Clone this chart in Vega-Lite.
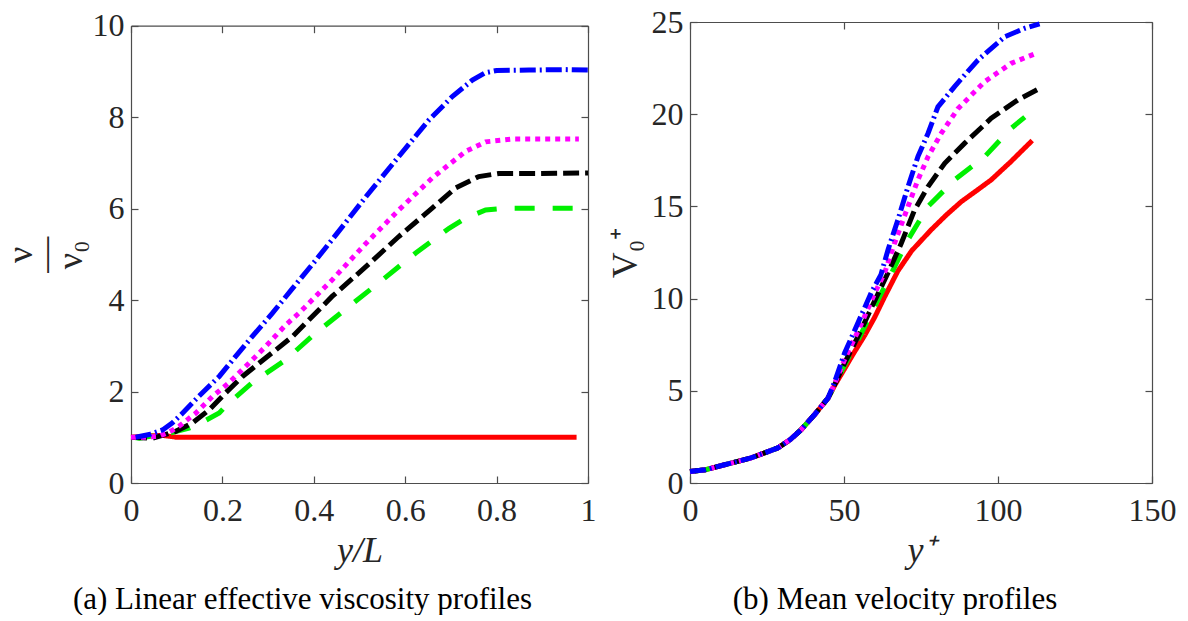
{
  "$schema": "https://vega.github.io/schema/vega-lite/v6.json",
  "background": "white",
  "padding": {"left": 2, "top": 6, "right": 0, "bottom": 0},
  "config": {
    "font": "Liberation Serif",
    "view": {"stroke": null},
    "axis": {
      "grid": false, "domain": true, "domainColor": "#4d4d4d", "domainWidth": 1.2, "labelFlush": false,
      "tickSize": -7, "tickColor": "#4d4d4d", "tickWidth": 1.2,
      "labelFont": "Liberation Serif", "labelFontSize": 32, "labelColor": "#262626",
      "titleFont": "Liberation Serif", "titleFontSize": 36, "titleColor": "#262626", "titleFontWeight": "normal"
    },
    "axisX": {"labelPadding": 19},
    "axisY": {"labelPadding": 14},
    "title": {"font": "Liberation Serif", "fontSize": 31, "fontWeight": "normal", "color": "#000000"}
  },
  "datasets": {
    "visc": [
      {"x": 0.0, "v": 1.0, "s": "s1"}, {"x": 0.04, "v": 1.03, "s": "s1"}, {"x": 0.07, "v": 1.04, "s": "s1"}, {"x": 0.1, "v": 1.0, "s": "s1"}, {"x": 0.975, "v": 1.0, "s": "s1"},
      {"x": 0.005, "v": 1.0, "s": "s2"}, {"x": 0.018, "v": 0.98, "s": "s2"}, {"x": 0.083, "v": 1.09, "s": "s2"}, {"x": 0.127, "v": 1.2, "s": "s2"}, {"x": 0.16, "v": 1.35, "s": "s2"}, {"x": 0.193, "v": 1.53, "s": "s2"}, {"x": 0.214, "v": 1.75, "s": "s2"}, {"x": 0.265, "v": 2.19, "s": "s2"}, {"x": 0.338, "v": 2.69, "s": "s2"}, {"x": 0.404, "v": 3.28, "s": "s2"}, {"x": 0.477, "v": 3.86, "s": "s2"}, {"x": 0.55, "v": 4.44, "s": "s2"}, {"x": 0.623, "v": 5.03, "s": "s2"}, {"x": 0.696, "v": 5.57, "s": "s2"}, {"x": 0.732, "v": 5.79, "s": "s2"}, {"x": 0.776, "v": 5.97, "s": "s2"}, {"x": 0.82, "v": 6.01, "s": "s2"}, {"x": 0.975, "v": 6.01, "s": "s2"},
      {"x": 0.0, "v": 1.0, "s": "s3"}, {"x": 0.047, "v": 0.98, "s": "s3"}, {"x": 0.098, "v": 1.13, "s": "s3"}, {"x": 0.134, "v": 1.31, "s": "s3"}, {"x": 0.171, "v": 1.6, "s": "s3"}, {"x": 0.207, "v": 1.97, "s": "s3"}, {"x": 0.244, "v": 2.33, "s": "s3"}, {"x": 0.28, "v": 2.62, "s": "s3"}, {"x": 0.317, "v": 2.91, "s": "s3"}, {"x": 0.353, "v": 3.2, "s": "s3"}, {"x": 0.375, "v": 3.42, "s": "s3"}, {"x": 0.44, "v": 4.08, "s": "s3"}, {"x": 0.514, "v": 4.73, "s": "s3"}, {"x": 0.586, "v": 5.39, "s": "s3"}, {"x": 0.659, "v": 6.01, "s": "s3"}, {"x": 0.71, "v": 6.45, "s": "s3"}, {"x": 0.761, "v": 6.7, "s": "s3"}, {"x": 0.805, "v": 6.77, "s": "s3"}, {"x": 0.893, "v": 6.77, "s": "s3"}, {"x": 1.0, "v": 6.78, "s": "s3"},
      {"x": 0.0, "v": 1.0, "s": "s4"}, {"x": 0.03, "v": 1.0, "s": "s4"}, {"x": 0.061, "v": 1.02, "s": "s4"}, {"x": 0.085, "v": 1.12, "s": "s4"}, {"x": 0.105, "v": 1.24, "s": "s4"}, {"x": 0.142, "v": 1.53, "s": "s4"}, {"x": 0.178, "v": 1.89, "s": "s4"}, {"x": 0.214, "v": 2.19, "s": "s4"}, {"x": 0.258, "v": 2.62, "s": "s4"}, {"x": 0.295, "v": 2.99, "s": "s4"}, {"x": 0.338, "v": 3.45, "s": "s4"}, {"x": 0.368, "v": 3.72, "s": "s4"}, {"x": 0.44, "v": 4.44, "s": "s4"}, {"x": 0.514, "v": 5.24, "s": "s4"}, {"x": 0.586, "v": 5.97, "s": "s4"}, {"x": 0.659, "v": 6.67, "s": "s4"}, {"x": 0.732, "v": 7.25, "s": "s4"}, {"x": 0.776, "v": 7.46, "s": "s4"}, {"x": 0.834, "v": 7.52, "s": "s4"}, {"x": 0.98, "v": 7.52, "s": "s4"},
      {"x": 0.01, "v": 1.0, "s": "s5"}, {"x": 0.04, "v": 1.06, "s": "s5"}, {"x": 0.069, "v": 1.16, "s": "s5"}, {"x": 0.09, "v": 1.31, "s": "s5"}, {"x": 0.11, "v": 1.5, "s": "s5"}, {"x": 0.134, "v": 1.75, "s": "s5"}, {"x": 0.163, "v": 2.04, "s": "s5"}, {"x": 0.193, "v": 2.33, "s": "s5"}, {"x": 0.229, "v": 2.77, "s": "s5"}, {"x": 0.265, "v": 3.2, "s": "s5"}, {"x": 0.309, "v": 3.71, "s": "s5"}, {"x": 0.353, "v": 4.25, "s": "s5"}, {"x": 0.4, "v": 4.82, "s": "s5"}, {"x": 0.44, "v": 5.32, "s": "s5"}, {"x": 0.514, "v": 6.26, "s": "s5"}, {"x": 0.586, "v": 7.14, "s": "s5"}, {"x": 0.652, "v": 7.94, "s": "s5"}, {"x": 0.703, "v": 8.45, "s": "s5"}, {"x": 0.747, "v": 8.81, "s": "s5"}, {"x": 0.775, "v": 8.97, "s": "s5"}, {"x": 0.8, "v": 9.02, "s": "s5"}, {"x": 0.871, "v": 9.03, "s": "s5"}, {"x": 0.95, "v": 9.04, "s": "s5"}, {"x": 1.0, "v": 9.03, "s": "s5"}
    ],
    "vel": [
      {"y": 0, "u": 0.62, "s": "s1"}, {"y": 5, "u": 0.72, "s": "s1"}, {"y": 11.2, "u": 0.99, "s": "s1"}, {"y": 19.8, "u": 1.36, "s": "s1"}, {"y": 28.5, "u": 1.9, "s": "s1"}, {"y": 32.5, "u": 2.35, "s": "s1"}, {"y": 36.1, "u": 2.89, "s": "s1"}, {"y": 40.4, "u": 3.7, "s": "s1"}, {"y": 44.8, "u": 4.6, "s": "s1"}, {"y": 47, "u": 5.3, "s": "s1"}, {"y": 50.2, "u": 6.2, "s": "s1"}, {"y": 53, "u": 7.0, "s": "s1"}, {"y": 56.7, "u": 8.0, "s": "s1"}, {"y": 60, "u": 9.0, "s": "s1"}, {"y": 63.2, "u": 10.1, "s": "s1"}, {"y": 67.5, "u": 11.5, "s": "s1"}, {"y": 72, "u": 12.6, "s": "s1"}, {"y": 78.3, "u": 13.73, "s": "s1"}, {"y": 83, "u": 14.5, "s": "s1"}, {"y": 88.1, "u": 15.26, "s": "s1"}, {"y": 93, "u": 15.85, "s": "s1"}, {"y": 97.8, "u": 16.44, "s": "s1"}, {"y": 104, "u": 17.4, "s": "s1"}, {"y": 111.1, "u": 18.57, "s": "s1"},
      {"y": 0, "u": 0.62, "s": "s2"}, {"y": 5, "u": 0.72, "s": "s2"}, {"y": 11.2, "u": 0.99, "s": "s2"}, {"y": 19.8, "u": 1.36, "s": "s2"}, {"y": 28.5, "u": 1.9, "s": "s2"}, {"y": 32.5, "u": 2.35, "s": "s2"}, {"y": 36.1, "u": 2.89, "s": "s2"}, {"y": 40.4, "u": 3.7, "s": "s2"}, {"y": 44.8, "u": 4.6, "s": "s2"}, {"y": 47, "u": 5.3, "s": "s2"}, {"y": 50.2, "u": 6.4, "s": "s2"}, {"y": 55, "u": 7.9, "s": "s2"}, {"y": 60, "u": 9.6, "s": "s2"}, {"y": 64.3, "u": 11.0, "s": "s2"}, {"y": 70.8, "u": 13.2, "s": "s2"}, {"y": 77.3, "u": 15.0, "s": "s2"}, {"y": 85.9, "u": 16.44, "s": "s2"}, {"y": 95.7, "u": 17.7, "s": "s2"}, {"y": 104.3, "u": 19.24, "s": "s2"}, {"y": 108.7, "u": 19.84, "s": "s2"},
      {"y": 0, "u": 0.62, "s": "s3"}, {"y": 5, "u": 0.72, "s": "s3"}, {"y": 11.2, "u": 0.99, "s": "s3"}, {"y": 19.8, "u": 1.36, "s": "s3"}, {"y": 28.5, "u": 1.9, "s": "s3"}, {"y": 32.5, "u": 2.35, "s": "s3"}, {"y": 36.1, "u": 2.89, "s": "s3"}, {"y": 40.4, "u": 3.7, "s": "s3"}, {"y": 44.8, "u": 4.6, "s": "s3"}, {"y": 47, "u": 5.35, "s": "s3"}, {"y": 50.2, "u": 6.5, "s": "s3"}, {"y": 55, "u": 8.1, "s": "s3"}, {"y": 60, "u": 9.9, "s": "s3"}, {"y": 64.3, "u": 11.4, "s": "s3"}, {"y": 68.6, "u": 13.0, "s": "s3"}, {"y": 72.9, "u": 14.8, "s": "s3"}, {"y": 77.3, "u": 16.08, "s": "s3"}, {"y": 82.7, "u": 17.34, "s": "s3"}, {"y": 89.2, "u": 18.43, "s": "s3"}, {"y": 97.8, "u": 19.78, "s": "s3"}, {"y": 106.5, "u": 20.78, "s": "s3"}, {"y": 113, "u": 21.35, "s": "s3"},
      {"y": 0, "u": 0.62, "s": "s4"}, {"y": 5, "u": 0.72, "s": "s4"}, {"y": 11.2, "u": 0.99, "s": "s4"}, {"y": 19.8, "u": 1.36, "s": "s4"}, {"y": 28.5, "u": 1.9, "s": "s4"}, {"y": 32.5, "u": 2.35, "s": "s4"}, {"y": 36.1, "u": 2.89, "s": "s4"}, {"y": 40.4, "u": 3.7, "s": "s4"}, {"y": 44.8, "u": 4.6, "s": "s4"}, {"y": 47, "u": 5.4, "s": "s4"}, {"y": 50.2, "u": 6.7, "s": "s4"}, {"y": 55, "u": 8.4, "s": "s4"}, {"y": 60, "u": 10.3, "s": "s4"}, {"y": 63.2, "u": 11.4, "s": "s4"}, {"y": 66.4, "u": 13.0, "s": "s4"}, {"y": 70.8, "u": 15.0, "s": "s4"}, {"y": 74, "u": 16.44, "s": "s4"}, {"y": 77.3, "u": 17.7, "s": "s4"}, {"y": 81.6, "u": 18.97, "s": "s4"}, {"y": 87, "u": 20.3, "s": "s4"}, {"y": 95.7, "u": 21.77, "s": "s4"}, {"y": 104.3, "u": 22.76, "s": "s4"}, {"y": 111.9, "u": 23.27, "s": "s4"},
      {"y": 0, "u": 0.62, "s": "s5"}, {"y": 5, "u": 0.72, "s": "s5"}, {"y": 11.2, "u": 0.99, "s": "s5"}, {"y": 19.8, "u": 1.36, "s": "s5"}, {"y": 28.5, "u": 1.9, "s": "s5"}, {"y": 32.5, "u": 2.35, "s": "s5"}, {"y": 36.1, "u": 2.89, "s": "s5"}, {"y": 40.4, "u": 3.7, "s": "s5"}, {"y": 44.8, "u": 4.6, "s": "s5"}, {"y": 47, "u": 5.5, "s": "s5"}, {"y": 50.2, "u": 7.05, "s": "s5"}, {"y": 54.5, "u": 8.67, "s": "s5"}, {"y": 58.8, "u": 10.3, "s": "s5"}, {"y": 62, "u": 11.3, "s": "s5"}, {"y": 64.3, "u": 12.65, "s": "s5"}, {"y": 67.5, "u": 14.27, "s": "s5"}, {"y": 70.8, "u": 16.08, "s": "s5"}, {"y": 74, "u": 17.7, "s": "s5"}, {"y": 77.3, "u": 18.97, "s": "s5"}, {"y": 80.5, "u": 20.4, "s": "s5"}, {"y": 85.9, "u": 21.5, "s": "s5"}, {"y": 93.5, "u": 22.94, "s": "s5"}, {"y": 102.2, "u": 24.2, "s": "s5"}, {"y": 108.7, "u": 24.66, "s": "s5"}, {"y": 113.5, "u": 24.9, "s": "s5"}
    ]
  },
  "spacing": 9,
  "hconcat": [
    {
      "width": 457, "height": 461,
      "title": {"text": "(a) Linear effective viscosity profiles", "orient": "bottom", "anchor": "middle", "frame": "group", "dx": -57, "offset": 17},
      "data": {"name": "visc"},
      "layer": [
        {
          "mark": {"type": "line", "strokeWidth": 5},
          "encoding": {
            "x": {"field": "x", "type": "quantitative", "scale": {"domain": [0, 1], "nice": false}, "axis": {"orient": "bottom", "values": [0, 0.2, 0.4, 0.6, 0.8, 1], "format": "~g", "title": "y/L", "titleFontStyle": "italic", "titlePadding": 7}},
            "y": {"field": "v", "type": "quantitative", "scale": {"domain": [0, 10], "nice": false, "range": [461, 3.7]}, "axis": {"orient": "left", "values": [0, 2, 4, 6, 8, 10], "title": ["ν", "—", "ν₀"], "titleAngle": 270, "titleLineHeight": 25, "titlePadding": 3}},
            "color": {"field": "s", "type": "nominal", "scale": {"domain": ["s1", "s2", "s3", "s4", "s5"], "range": ["#ff0000", "#00f000", "#000000", "#ff00ff", "#0000ff"]}, "legend": null},
            "strokeDash": {"field": "s", "type": "nominal", "scale": {"domain": ["s1", "s2", "s3", "s4", "s5"], "range": [[1, 0], [20, 18], [16, 6], [5, 5], [16, 4, 2, 4]]}, "legend": null}
          }
        },
        {
          "mark": {"type": "line", "opacity": 0},
          "encoding": {
            "x": {"field": "x", "type": "quantitative", "axis": {"orient": "top", "offset": -3.7, "values": [0, 0.2, 0.4, 0.6, 0.8, 1], "labels": false, "title": null}},
            "y": {"field": "v", "type": "quantitative", "axis": {"orient": "right", "values": [0, 2, 4, 6, 8, 10], "labels": false, "title": null}},
            "detail": {"field": "s"}
          }
        }
      ]
    },
    {
      "width": 462, "height": 461,
      "title": {"text": "(b) Mean velocity profiles", "orient": "bottom", "anchor": "middle", "frame": "group", "dx": -26, "offset": 17},
      "data": {"name": "vel"},
      "layer": [
        {
          "mark": {"type": "line", "strokeWidth": 5},
          "encoding": {
            "x": {"field": "y", "type": "quantitative", "scale": {"domain": [0, 150], "nice": false}, "axis": {"orient": "bottom", "values": [0, 50, 100, 150], "title": "y⁺", "titleFontStyle": "italic", "titlePadding": 7}},
            "y": {"field": "u", "type": "quantitative", "scale": {"domain": [0, 25], "nice": false}, "axis": {"orient": "left", "values": [0, 5, 10, 15, 20, 25], "title": "V₀⁺", "titleAngle": 270, "titlePadding": 7}},
            "color": {"field": "s", "type": "nominal", "scale": {"domain": ["s1", "s2", "s3", "s4", "s5"], "range": ["#ff0000", "#00f000", "#000000", "#ff00ff", "#0000ff"]}, "legend": null},
            "strokeDash": {"field": "s", "type": "nominal", "scale": {"domain": ["s1", "s2", "s3", "s4", "s5"], "range": [[1, 0], [20, 18], [16, 6], [5, 5], [16, 4, 2, 4]]}, "legend": null}
          }
        },
        {
          "mark": {"type": "line", "opacity": 0},
          "encoding": {
            "x": {"field": "y", "type": "quantitative", "axis": {"orient": "top", "values": [0, 50, 100, 150], "labels": false, "title": null}},
            "y": {"field": "u", "type": "quantitative", "axis": {"orient": "right", "values": [0, 5, 10, 15, 20, 25], "labels": false, "title": null}},
            "detail": {"field": "s"}
          }
        }
      ]
    }
  ]
}
